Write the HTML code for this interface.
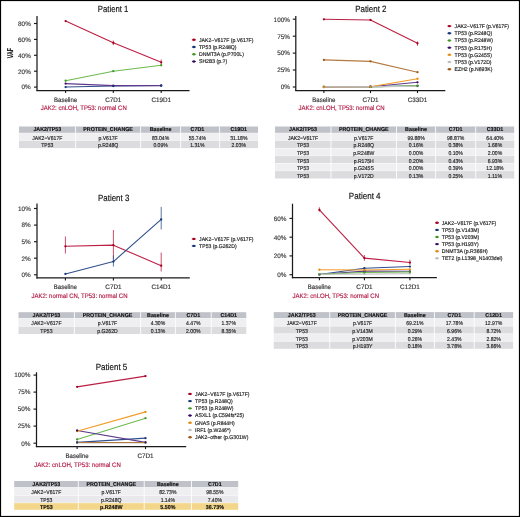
<!DOCTYPE html>
<html><head><meta charset="utf-8"><style>
html,body{margin:0;padding:0;background:#fff;width:520px;height:517px;overflow:hidden}
svg{display:block;will-change:transform}
text{font-family:"Liberation Sans", sans-serif;text-rendering:geometricPrecision;stroke:currentColor;stroke-width:0.16px}
</style></head><body>
<svg width="520" height="517" viewBox="0 0 520 517">
<rect x="0" y="0" width="520" height="517" fill="#fff"/>
<text x="97.80" y="11.65" font-size="9.1" fill="#111" color="#111" text-anchor="start" textLength="30.60" lengthAdjust="spacingAndGlyphs">Patient 1</text>
<line x1="37.00" y1="16.00" x2="37.00" y2="91.10" stroke="#1a1a1a" stroke-width="1.25"/>
<line x1="36.40" y1="90.50" x2="189.50" y2="90.50" stroke="#1a1a1a" stroke-width="1.25"/>
<line x1="34.00" y1="23.50" x2="37.00" y2="23.50" stroke="#1a1a1a" stroke-width="1.15"/>
<text x="30.80" y="25.84" font-size="6.5" fill="#3c3c3c" color="#3c3c3c" text-anchor="end" textLength="12.75" lengthAdjust="spacingAndGlyphs">80%</text>
<line x1="34.00" y1="39.40" x2="37.00" y2="39.40" stroke="#1a1a1a" stroke-width="1.15"/>
<text x="30.80" y="41.74" font-size="6.5" fill="#3c3c3c" color="#3c3c3c" text-anchor="end" textLength="12.75" lengthAdjust="spacingAndGlyphs">60%</text>
<line x1="34.00" y1="55.30" x2="37.00" y2="55.30" stroke="#1a1a1a" stroke-width="1.15"/>
<text x="30.80" y="57.64" font-size="6.5" fill="#3c3c3c" color="#3c3c3c" text-anchor="end" textLength="12.75" lengthAdjust="spacingAndGlyphs">40%</text>
<line x1="34.00" y1="71.20" x2="37.00" y2="71.20" stroke="#1a1a1a" stroke-width="1.15"/>
<text x="30.80" y="73.54" font-size="6.5" fill="#3c3c3c" color="#3c3c3c" text-anchor="end" textLength="12.75" lengthAdjust="spacingAndGlyphs">20%</text>
<line x1="34.00" y1="87.10" x2="37.00" y2="87.10" stroke="#1a1a1a" stroke-width="1.15"/>
<text x="30.80" y="89.44" font-size="6.5" fill="#3c3c3c" color="#3c3c3c" text-anchor="end" textLength="9.21" lengthAdjust="spacingAndGlyphs">0%</text>
<line x1="65.60" y1="90.50" x2="65.60" y2="93.10" stroke="#1a1a1a" stroke-width="1.1"/>
<text x="65.60" y="101.70" font-size="6.5" fill="#333333" color="#333333" text-anchor="middle" textLength="23.19" lengthAdjust="spacingAndGlyphs">Baseline</text>
<line x1="113.30" y1="90.50" x2="113.30" y2="93.10" stroke="#1a1a1a" stroke-width="1.1"/>
<text x="113.30" y="101.70" font-size="6.5" fill="#333333" color="#333333" text-anchor="middle" textLength="16.12" lengthAdjust="spacingAndGlyphs">C7D1</text>
<line x1="161.20" y1="90.50" x2="161.20" y2="93.10" stroke="#1a1a1a" stroke-width="1.1"/>
<text x="161.20" y="101.70" font-size="6.5" fill="#333333" color="#333333" text-anchor="middle" textLength="19.63" lengthAdjust="spacingAndGlyphs">C19D1</text>
<text x="40.70" y="110.00" font-size="6.5" fill="#b31c47" color="#b31c47" text-anchor="start" textLength="86.10" lengthAdjust="spacingAndGlyphs">JAK2: cnLOH, TP53: normal CN</text>
<path d="M65.60,21.08L113.30,42.79L161.20,62.31" fill="none" stroke="#bc1f46" stroke-width="1.1" stroke-linejoin="round"/>
<path d="M65.60,87.03L113.30,86.06L161.20,85.49" fill="none" stroke="#30508c" stroke-width="1.1" stroke-linejoin="round"/>
<path d="M65.60,80.74L113.30,71.20L161.20,65.24" fill="none" stroke="#6cba50" stroke-width="1.1" stroke-linejoin="round"/>
<path d="M65.60,83.60L113.30,85.67L161.20,85.67" fill="none" stroke="#5e3a8c" stroke-width="1.1" stroke-linejoin="round"/>
<line x1="113.30" y1="40.50" x2="113.30" y2="45.20" stroke="#bc1f46" stroke-width="0.8"/>
<line x1="161.20" y1="59.50" x2="161.20" y2="64.00" stroke="#bc1f46" stroke-width="0.8"/>
<circle cx="65.60" cy="21.08" r="1.15" fill="#a8001f"/>
<circle cx="113.30" cy="42.79" r="1.15" fill="#a8001f"/>
<circle cx="161.20" cy="62.31" r="1.15" fill="#a8001f"/>
<circle cx="65.60" cy="83.60" r="1.15" fill="#380c5c"/>
<circle cx="113.30" cy="85.67" r="1.15" fill="#380c5c"/>
<circle cx="161.20" cy="85.67" r="1.15" fill="#380c5c"/>
<circle cx="65.60" cy="80.74" r="1.15" fill="#44962a"/>
<circle cx="113.30" cy="71.20" r="1.15" fill="#44962a"/>
<circle cx="161.20" cy="65.24" r="1.15" fill="#44962a"/>
<circle cx="65.60" cy="87.03" r="1.15" fill="#16367a"/>
<circle cx="113.30" cy="86.06" r="1.15" fill="#16367a"/>
<circle cx="161.20" cy="85.49" r="1.15" fill="#16367a"/>
<line x1="191.90" y1="39.80" x2="195.90" y2="39.80" stroke="#bc1f46" stroke-width="1.0"/>
<ellipse cx="193.90" cy="39.80" rx="1.5" ry="1.2" fill="#a8001f"/>
<text x="199.00" y="41.69" font-size="5.5" fill="#1a1a1a" color="#1a1a1a" text-anchor="start" textLength="54.45" lengthAdjust="spacingAndGlyphs">JAK2−V617F (p.V617F)</text>
<line x1="191.90" y1="47.03" x2="195.90" y2="47.03" stroke="#30508c" stroke-width="1.0"/>
<ellipse cx="193.90" cy="47.03" rx="1.5" ry="1.2" fill="#16367a"/>
<text x="199.00" y="48.92" font-size="5.5" fill="#1a1a1a" color="#1a1a1a" text-anchor="start" textLength="37.53" lengthAdjust="spacingAndGlyphs">TP53 (p.R248Q)</text>
<line x1="191.90" y1="54.26" x2="195.90" y2="54.26" stroke="#6cba50" stroke-width="1.0"/>
<ellipse cx="193.90" cy="54.26" rx="1.5" ry="1.2" fill="#44962a"/>
<text x="199.00" y="56.15" font-size="5.5" fill="#1a1a1a" color="#1a1a1a" text-anchor="start" textLength="44.91" lengthAdjust="spacingAndGlyphs">DNMT3A (p.P700L)</text>
<line x1="191.90" y1="61.49" x2="195.90" y2="61.49" stroke="#5e3a8c" stroke-width="1.0"/>
<ellipse cx="193.90" cy="61.49" rx="1.5" ry="1.2" fill="#380c5c"/>
<text x="199.00" y="63.38" font-size="5.5" fill="#1a1a1a" color="#1a1a1a" text-anchor="start" textLength="28.14" lengthAdjust="spacingAndGlyphs">SH2B3 (p.?)</text>
<text x="0" y="0" font-size="8.6" font-weight="bold" fill="#1a1a1a" text-anchor="middle" textLength="10.1" lengthAdjust="spacingAndGlyphs" transform="translate(13.1,53.1) rotate(-90)">VAF</text>
<text x="355.20" y="11.65" font-size="9.1" fill="#111" color="#111" text-anchor="start" textLength="31.30" lengthAdjust="spacingAndGlyphs">Patient 2</text>
<line x1="295.80" y1="16.10" x2="295.80" y2="91.10" stroke="#1a1a1a" stroke-width="1.25"/>
<line x1="295.20" y1="90.50" x2="445.30" y2="90.50" stroke="#1a1a1a" stroke-width="1.25"/>
<line x1="292.80" y1="19.20" x2="295.80" y2="19.20" stroke="#1a1a1a" stroke-width="1.15"/>
<text x="289.90" y="21.54" font-size="6.5" fill="#3c3c3c" color="#3c3c3c" text-anchor="end" textLength="16.29" lengthAdjust="spacingAndGlyphs">100%</text>
<line x1="292.80" y1="36.20" x2="295.80" y2="36.20" stroke="#1a1a1a" stroke-width="1.15"/>
<text x="289.90" y="38.54" font-size="6.5" fill="#3c3c3c" color="#3c3c3c" text-anchor="end" textLength="12.75" lengthAdjust="spacingAndGlyphs">75%</text>
<line x1="292.80" y1="53.10" x2="295.80" y2="53.10" stroke="#1a1a1a" stroke-width="1.15"/>
<text x="289.90" y="55.44" font-size="6.5" fill="#3c3c3c" color="#3c3c3c" text-anchor="end" textLength="12.75" lengthAdjust="spacingAndGlyphs">50%</text>
<line x1="292.80" y1="70.00" x2="295.80" y2="70.00" stroke="#1a1a1a" stroke-width="1.15"/>
<text x="289.90" y="72.34" font-size="6.5" fill="#3c3c3c" color="#3c3c3c" text-anchor="end" textLength="12.75" lengthAdjust="spacingAndGlyphs">25%</text>
<line x1="292.80" y1="87.00" x2="295.80" y2="87.00" stroke="#1a1a1a" stroke-width="1.15"/>
<text x="289.90" y="89.34" font-size="6.5" fill="#3c3c3c" color="#3c3c3c" text-anchor="end" textLength="9.21" lengthAdjust="spacingAndGlyphs">0%</text>
<line x1="323.90" y1="90.50" x2="323.90" y2="93.10" stroke="#1a1a1a" stroke-width="1.1"/>
<text x="323.90" y="101.80" font-size="6.5" fill="#333333" color="#333333" text-anchor="middle" textLength="23.19" lengthAdjust="spacingAndGlyphs">Baseline</text>
<line x1="370.50" y1="90.50" x2="370.50" y2="93.10" stroke="#1a1a1a" stroke-width="1.1"/>
<text x="370.50" y="101.80" font-size="6.5" fill="#333333" color="#333333" text-anchor="middle" textLength="16.12" lengthAdjust="spacingAndGlyphs">C7D1</text>
<line x1="417.50" y1="90.50" x2="417.50" y2="93.10" stroke="#1a1a1a" stroke-width="1.1"/>
<text x="417.50" y="101.80" font-size="6.5" fill="#333333" color="#333333" text-anchor="middle" textLength="19.63" lengthAdjust="spacingAndGlyphs">C33D1</text>
<text x="298.60" y="110.00" font-size="6.5" fill="#b31c47" color="#b31c47" text-anchor="start" textLength="86.10" lengthAdjust="spacingAndGlyphs">JAK2: cnLOH, TP53: normal CN</text>
<path d="M323.90,19.28L370.50,19.97L417.50,43.34" fill="none" stroke="#bc1f46" stroke-width="1.1" stroke-linejoin="round"/>
<path d="M323.90,86.89L370.50,86.74L417.50,85.86" fill="none" stroke="#30508c" stroke-width="1.1" stroke-linejoin="round"/>
<path d="M323.90,87.00L370.50,86.93L417.50,85.64" fill="none" stroke="#6cba50" stroke-width="1.1" stroke-linejoin="round"/>
<path d="M323.90,86.86L370.50,86.71L417.50,82.30" fill="none" stroke="#5e3a8c" stroke-width="1.1" stroke-linejoin="round"/>
<path d="M323.90,87.00L370.50,86.74L417.50,78.74" fill="none" stroke="#f19a26" stroke-width="1.1" stroke-linejoin="round"/>
<path d="M323.90,86.91L370.50,86.83L417.50,86.25" fill="none" stroke="#c8c8cc" stroke-width="1.1" stroke-linejoin="round"/>
<path d="M323.90,59.88L370.50,61.37L417.50,72.22" fill="none" stroke="#b57a40" stroke-width="1.1" stroke-linejoin="round"/>
<line x1="417.50" y1="41.40" x2="417.50" y2="45.80" stroke="#bc1f46" stroke-width="0.8"/>
<circle cx="323.90" cy="19.28" r="1.15" fill="#a8001f"/>
<circle cx="370.50" cy="19.97" r="1.15" fill="#a8001f"/>
<circle cx="417.50" cy="43.34" r="1.15" fill="#a8001f"/>
<circle cx="323.90" cy="86.91" r="1.15" fill="#bcbcc2"/>
<circle cx="370.50" cy="86.83" r="1.15" fill="#bcbcc2"/>
<circle cx="417.50" cy="86.25" r="1.15" fill="#bcbcc2"/>
<circle cx="323.90" cy="86.89" r="1.15" fill="#16367a"/>
<circle cx="370.50" cy="86.74" r="1.15" fill="#16367a"/>
<circle cx="417.50" cy="85.86" r="1.15" fill="#16367a"/>
<circle cx="323.90" cy="86.86" r="1.15" fill="#380c5c"/>
<circle cx="370.50" cy="86.71" r="1.15" fill="#380c5c"/>
<circle cx="417.50" cy="82.30" r="1.15" fill="#380c5c"/>
<circle cx="323.90" cy="87.00" r="1.15" fill="#44962a"/>
<circle cx="370.50" cy="86.93" r="1.15" fill="#44962a"/>
<circle cx="417.50" cy="85.64" r="1.15" fill="#44962a"/>
<circle cx="323.90" cy="87.00" r="1.15" fill="#e58c12"/>
<circle cx="370.50" cy="86.74" r="1.15" fill="#e58c12"/>
<circle cx="417.50" cy="78.74" r="1.15" fill="#e58c12"/>
<circle cx="323.90" cy="59.88" r="1.15" fill="#a05a14"/>
<circle cx="370.50" cy="61.37" r="1.15" fill="#a05a14"/>
<circle cx="417.50" cy="72.22" r="1.15" fill="#a05a14"/>
<line x1="447.40" y1="26.10" x2="451.40" y2="26.10" stroke="#bc1f46" stroke-width="1.0"/>
<ellipse cx="449.40" cy="26.10" rx="1.5" ry="1.2" fill="#a8001f"/>
<text x="454.60" y="27.99" font-size="5.5" fill="#1a1a1a" color="#1a1a1a" text-anchor="start" textLength="54.45" lengthAdjust="spacingAndGlyphs">JAK2−V617F (p.V617F)</text>
<line x1="447.40" y1="33.28" x2="451.40" y2="33.28" stroke="#30508c" stroke-width="1.0"/>
<ellipse cx="449.40" cy="33.28" rx="1.5" ry="1.2" fill="#16367a"/>
<text x="454.60" y="35.17" font-size="5.5" fill="#1a1a1a" color="#1a1a1a" text-anchor="start" textLength="37.53" lengthAdjust="spacingAndGlyphs">TP53 (p.R248Q)</text>
<line x1="447.40" y1="40.46" x2="451.40" y2="40.46" stroke="#6cba50" stroke-width="1.0"/>
<ellipse cx="449.40" cy="40.46" rx="1.5" ry="1.2" fill="#44962a"/>
<text x="454.60" y="42.35" font-size="5.5" fill="#1a1a1a" color="#1a1a1a" text-anchor="start" textLength="38.37" lengthAdjust="spacingAndGlyphs">TP53 (p.R248W)</text>
<line x1="447.40" y1="47.64" x2="451.40" y2="47.64" stroke="#5e3a8c" stroke-width="1.0"/>
<ellipse cx="449.40" cy="47.64" rx="1.5" ry="1.2" fill="#380c5c"/>
<text x="454.60" y="49.53" font-size="5.5" fill="#1a1a1a" color="#1a1a1a" text-anchor="start" textLength="37.24" lengthAdjust="spacingAndGlyphs">TP53 (p.R175H)</text>
<line x1="447.40" y1="54.82" x2="451.40" y2="54.82" stroke="#f19a26" stroke-width="1.0"/>
<ellipse cx="449.40" cy="54.82" rx="1.5" ry="1.2" fill="#e58c12"/>
<text x="454.60" y="56.71" font-size="5.5" fill="#1a1a1a" color="#1a1a1a" text-anchor="start" textLength="37.24" lengthAdjust="spacingAndGlyphs">TP53 (p.G245S)</text>
<line x1="447.40" y1="62.00" x2="451.40" y2="62.00" stroke="#c8c8cc" stroke-width="1.0"/>
<ellipse cx="449.40" cy="62.00" rx="1.5" ry="1.2" fill="#bcbcc2"/>
<text x="454.60" y="63.89" font-size="5.5" fill="#1a1a1a" color="#1a1a1a" text-anchor="start" textLength="36.96" lengthAdjust="spacingAndGlyphs">TP53 (p.V172D)</text>
<line x1="447.40" y1="69.18" x2="451.40" y2="69.18" stroke="#b57a40" stroke-width="1.0"/>
<ellipse cx="449.40" cy="69.18" rx="1.5" ry="1.2" fill="#a05a14"/>
<text x="454.60" y="71.07" font-size="5.5" fill="#1a1a1a" color="#1a1a1a" text-anchor="start" textLength="37.81" lengthAdjust="spacingAndGlyphs">EZH2 (p.N693K)</text>
<text x="98.10" y="200.85" font-size="9.1" fill="#111" color="#111" text-anchor="start" textLength="31.20" lengthAdjust="spacingAndGlyphs">Patient 3</text>
<line x1="37.00" y1="203.60" x2="37.00" y2="278.50" stroke="#1a1a1a" stroke-width="1.25"/>
<line x1="36.40" y1="277.90" x2="189.80" y2="277.90" stroke="#1a1a1a" stroke-width="1.25"/>
<line x1="34.00" y1="208.50" x2="37.00" y2="208.50" stroke="#1a1a1a" stroke-width="1.15"/>
<text x="30.80" y="210.84" font-size="6.5" fill="#3c3c3c" color="#3c3c3c" text-anchor="end" textLength="12.75" lengthAdjust="spacingAndGlyphs">10%</text>
<line x1="34.00" y1="225.10" x2="37.00" y2="225.10" stroke="#1a1a1a" stroke-width="1.15"/>
<text x="30.80" y="227.44" font-size="6.5" fill="#3c3c3c" color="#3c3c3c" text-anchor="end" textLength="9.21" lengthAdjust="spacingAndGlyphs">8%</text>
<line x1="34.00" y1="241.70" x2="37.00" y2="241.70" stroke="#1a1a1a" stroke-width="1.15"/>
<text x="30.80" y="244.04" font-size="6.5" fill="#3c3c3c" color="#3c3c3c" text-anchor="end" textLength="9.21" lengthAdjust="spacingAndGlyphs">5%</text>
<line x1="34.00" y1="258.20" x2="37.00" y2="258.20" stroke="#1a1a1a" stroke-width="1.15"/>
<text x="30.80" y="260.54" font-size="6.5" fill="#3c3c3c" color="#3c3c3c" text-anchor="end" textLength="9.21" lengthAdjust="spacingAndGlyphs">2%</text>
<line x1="34.00" y1="274.80" x2="37.00" y2="274.80" stroke="#1a1a1a" stroke-width="1.15"/>
<text x="30.80" y="277.14" font-size="6.5" fill="#3c3c3c" color="#3c3c3c" text-anchor="end" textLength="9.21" lengthAdjust="spacingAndGlyphs">0%</text>
<line x1="65.40" y1="277.90" x2="65.40" y2="280.50" stroke="#1a1a1a" stroke-width="1.1"/>
<text x="65.40" y="289.00" font-size="6.5" fill="#333333" color="#333333" text-anchor="middle" textLength="23.19" lengthAdjust="spacingAndGlyphs">Baseline</text>
<line x1="113.40" y1="277.90" x2="113.40" y2="280.50" stroke="#1a1a1a" stroke-width="1.1"/>
<text x="113.40" y="289.00" font-size="6.5" fill="#333333" color="#333333" text-anchor="middle" textLength="16.12" lengthAdjust="spacingAndGlyphs">C7D1</text>
<line x1="161.20" y1="277.90" x2="161.20" y2="280.50" stroke="#1a1a1a" stroke-width="1.1"/>
<text x="161.20" y="289.00" font-size="6.5" fill="#333333" color="#333333" text-anchor="middle" textLength="19.63" lengthAdjust="spacingAndGlyphs">C14D1</text>
<text x="31.40" y="297.90" font-size="6.5" fill="#b31c47" color="#b31c47" text-anchor="start" textLength="96.10" lengthAdjust="spacingAndGlyphs">JAK2: normal CN, TP53: normal CN</text>
<path d="M65.40,246.29L113.40,245.16L161.20,265.72" fill="none" stroke="#bc1f46" stroke-width="1.1" stroke-linejoin="round"/>
<path d="M65.40,273.94L113.40,261.54L161.20,219.44" fill="none" stroke="#30508c" stroke-width="1.1" stroke-linejoin="round"/>
<line x1="65.40" y1="236.50" x2="65.40" y2="253.50" stroke="#bc1f46" stroke-width="0.8"/>
<line x1="113.40" y1="230.00" x2="113.40" y2="259.50" stroke="#bc1f46" stroke-width="0.8"/>
<line x1="161.20" y1="252.60" x2="161.20" y2="271.50" stroke="#bc1f46" stroke-width="0.8"/>
<line x1="113.40" y1="255.40" x2="113.40" y2="266.50" stroke="#30508c" stroke-width="0.8"/>
<line x1="161.20" y1="206.90" x2="161.20" y2="229.50" stroke="#30508c" stroke-width="0.8"/>
<circle cx="65.40" cy="246.29" r="1.15" fill="#a8001f"/>
<circle cx="113.40" cy="245.16" r="1.15" fill="#a8001f"/>
<circle cx="161.20" cy="265.72" r="1.15" fill="#a8001f"/>
<circle cx="65.40" cy="273.94" r="1.15" fill="#16367a"/>
<circle cx="113.40" cy="261.54" r="1.15" fill="#16367a"/>
<circle cx="161.20" cy="219.44" r="1.15" fill="#16367a"/>
<line x1="191.80" y1="238.90" x2="195.80" y2="238.90" stroke="#bc1f46" stroke-width="1.0"/>
<ellipse cx="193.80" cy="238.90" rx="1.5" ry="1.2" fill="#a8001f"/>
<text x="199.10" y="240.79" font-size="5.5" fill="#1a1a1a" color="#1a1a1a" text-anchor="start" textLength="54.45" lengthAdjust="spacingAndGlyphs">JAK2−V617F (p.V617F)</text>
<line x1="191.80" y1="245.90" x2="195.80" y2="245.90" stroke="#30508c" stroke-width="1.0"/>
<ellipse cx="193.80" cy="245.90" rx="1.5" ry="1.2" fill="#16367a"/>
<text x="199.10" y="247.79" font-size="5.5" fill="#1a1a1a" color="#1a1a1a" text-anchor="start" textLength="37.53" lengthAdjust="spacingAndGlyphs">TP53 (p.G262D)</text>
<text x="348.80" y="199.05" font-size="9.1" fill="#111" color="#111" text-anchor="start" textLength="31.80" lengthAdjust="spacingAndGlyphs">Patient 4</text>
<line x1="292.50" y1="203.70" x2="292.50" y2="278.30" stroke="#1a1a1a" stroke-width="1.25"/>
<line x1="291.90" y1="277.70" x2="436.90" y2="277.70" stroke="#1a1a1a" stroke-width="1.25"/>
<line x1="289.50" y1="218.40" x2="292.50" y2="218.40" stroke="#1a1a1a" stroke-width="1.15"/>
<text x="286.40" y="220.74" font-size="6.5" fill="#3c3c3c" color="#3c3c3c" text-anchor="end" textLength="12.75" lengthAdjust="spacingAndGlyphs">60%</text>
<line x1="289.50" y1="237.20" x2="292.50" y2="237.20" stroke="#1a1a1a" stroke-width="1.15"/>
<text x="286.40" y="239.54" font-size="6.5" fill="#3c3c3c" color="#3c3c3c" text-anchor="end" textLength="12.75" lengthAdjust="spacingAndGlyphs">40%</text>
<line x1="289.50" y1="255.90" x2="292.50" y2="255.90" stroke="#1a1a1a" stroke-width="1.15"/>
<text x="286.40" y="258.24" font-size="6.5" fill="#3c3c3c" color="#3c3c3c" text-anchor="end" textLength="12.75" lengthAdjust="spacingAndGlyphs">20%</text>
<line x1="289.50" y1="274.70" x2="292.50" y2="274.70" stroke="#1a1a1a" stroke-width="1.15"/>
<text x="286.40" y="277.04" font-size="6.5" fill="#3c3c3c" color="#3c3c3c" text-anchor="end" textLength="9.21" lengthAdjust="spacingAndGlyphs">0%</text>
<line x1="319.40" y1="277.70" x2="319.40" y2="280.30" stroke="#1a1a1a" stroke-width="1.1"/>
<text x="319.40" y="289.10" font-size="6.5" fill="#333333" color="#333333" text-anchor="middle" textLength="23.19" lengthAdjust="spacingAndGlyphs">Baseline</text>
<line x1="364.40" y1="277.70" x2="364.40" y2="280.30" stroke="#1a1a1a" stroke-width="1.1"/>
<text x="364.40" y="289.10" font-size="6.5" fill="#333333" color="#333333" text-anchor="middle" textLength="16.12" lengthAdjust="spacingAndGlyphs">C7D1</text>
<line x1="409.90" y1="277.70" x2="409.90" y2="280.30" stroke="#1a1a1a" stroke-width="1.1"/>
<text x="409.90" y="289.10" font-size="6.5" fill="#333333" color="#333333" text-anchor="middle" textLength="19.63" lengthAdjust="spacingAndGlyphs">C12D1</text>
<text x="292.50" y="297.90" font-size="6.5" fill="#b31c47" color="#b31c47" text-anchor="start" textLength="86.50" lengthAdjust="spacingAndGlyphs">JAK2: cnLOH, TP53: normal CN</text>
<path d="M319.40,209.99L364.40,258.08L409.90,262.57" fill="none" stroke="#bc1f46" stroke-width="1.1" stroke-linejoin="round"/>
<path d="M319.40,274.43L364.40,268.19L409.90,266.55" fill="none" stroke="#30508c" stroke-width="1.1" stroke-linejoin="round"/>
<path d="M319.40,274.53L364.40,271.17L409.90,271.28" fill="none" stroke="#5e3a8c" stroke-width="1.1" stroke-linejoin="round"/>
<path d="M319.40,274.42L364.40,272.43L409.90,272.06" fill="none" stroke="#6cba50" stroke-width="1.1" stroke-linejoin="round"/>
<path d="M319.40,269.74L364.40,269.93L409.90,269.28" fill="none" stroke="#f19a26" stroke-width="1.1" stroke-linejoin="round"/>
<path d="M319.40,274.23L364.40,274.09L409.90,273.58" fill="none" stroke="#c8c8cc" stroke-width="1.1" stroke-linejoin="round"/>
<line x1="319.40" y1="207.30" x2="319.40" y2="211.50" stroke="#bc1f46" stroke-width="0.8"/>
<line x1="364.40" y1="255.00" x2="364.40" y2="260.80" stroke="#bc1f46" stroke-width="0.8"/>
<line x1="409.90" y1="259.80" x2="409.90" y2="265.00" stroke="#bc1f46" stroke-width="0.8"/>
<circle cx="319.40" cy="209.99" r="1.15" fill="#a8001f"/>
<circle cx="364.40" cy="258.08" r="1.15" fill="#a8001f"/>
<circle cx="409.90" cy="262.57" r="1.15" fill="#a8001f"/>
<circle cx="319.40" cy="274.43" r="1.15" fill="#16367a"/>
<circle cx="364.40" cy="268.19" r="1.15" fill="#16367a"/>
<circle cx="409.90" cy="266.55" r="1.15" fill="#16367a"/>
<circle cx="319.40" cy="274.53" r="1.15" fill="#380c5c"/>
<circle cx="364.40" cy="271.17" r="1.15" fill="#380c5c"/>
<circle cx="409.90" cy="271.28" r="1.15" fill="#380c5c"/>
<circle cx="319.40" cy="269.74" r="1.15" fill="#e58c12"/>
<circle cx="364.40" cy="269.93" r="1.15" fill="#e58c12"/>
<circle cx="409.90" cy="269.28" r="1.15" fill="#e58c12"/>
<circle cx="319.40" cy="274.23" r="1.15" fill="#bcbcc2"/>
<circle cx="364.40" cy="274.09" r="1.15" fill="#bcbcc2"/>
<circle cx="409.90" cy="273.58" r="1.15" fill="#bcbcc2"/>
<circle cx="319.40" cy="274.42" r="1.15" fill="#44962a"/>
<circle cx="364.40" cy="272.43" r="1.15" fill="#44962a"/>
<circle cx="409.90" cy="272.06" r="1.15" fill="#44962a"/>
<line x1="435.00" y1="222.80" x2="439.00" y2="222.80" stroke="#bc1f46" stroke-width="1.0"/>
<ellipse cx="437.00" cy="222.80" rx="1.5" ry="1.2" fill="#a8001f"/>
<text x="441.80" y="224.69" font-size="5.5" fill="#1a1a1a" color="#1a1a1a" text-anchor="start" textLength="54.45" lengthAdjust="spacingAndGlyphs">JAK2−V617F (p.V617F)</text>
<line x1="435.00" y1="229.90" x2="439.00" y2="229.90" stroke="#30508c" stroke-width="1.0"/>
<ellipse cx="437.00" cy="229.90" rx="1.5" ry="1.2" fill="#16367a"/>
<text x="441.80" y="231.79" font-size="5.5" fill="#1a1a1a" color="#1a1a1a" text-anchor="start" textLength="37.53" lengthAdjust="spacingAndGlyphs">TP53 (p.V143M)</text>
<line x1="435.00" y1="237.00" x2="439.00" y2="237.00" stroke="#6cba50" stroke-width="1.0"/>
<ellipse cx="437.00" cy="237.00" rx="1.5" ry="1.2" fill="#44962a"/>
<text x="441.80" y="238.89" font-size="5.5" fill="#1a1a1a" color="#1a1a1a" text-anchor="start" textLength="37.53" lengthAdjust="spacingAndGlyphs">TP53 (p.V203M)</text>
<line x1="435.00" y1="244.10" x2="439.00" y2="244.10" stroke="#5e3a8c" stroke-width="1.0"/>
<ellipse cx="437.00" cy="244.10" rx="1.5" ry="1.2" fill="#380c5c"/>
<text x="441.80" y="245.99" font-size="5.5" fill="#1a1a1a" color="#1a1a1a" text-anchor="start" textLength="36.96" lengthAdjust="spacingAndGlyphs">TP53 (p.H193Y)</text>
<line x1="435.00" y1="251.20" x2="439.00" y2="251.20" stroke="#f19a26" stroke-width="1.0"/>
<ellipse cx="437.00" cy="251.20" rx="1.5" ry="1.2" fill="#e58c12"/>
<text x="441.80" y="253.09" font-size="5.5" fill="#1a1a1a" color="#1a1a1a" text-anchor="start" textLength="46.04" lengthAdjust="spacingAndGlyphs">DNMT3A (p.R366H)</text>
<line x1="435.00" y1="258.30" x2="439.00" y2="258.30" stroke="#c8c8cc" stroke-width="1.0"/>
<ellipse cx="437.00" cy="258.30" rx="1.5" ry="1.2" fill="#bcbcc2"/>
<text x="441.80" y="260.19" font-size="5.5" fill="#1a1a1a" color="#1a1a1a" text-anchor="start" textLength="60.57" lengthAdjust="spacingAndGlyphs">TET2 (p.L1398_N1403del)</text>
<text x="95.70" y="369.65" font-size="9.1" fill="#111" color="#111" text-anchor="start" textLength="31.60" lengthAdjust="spacingAndGlyphs">Patient 5</text>
<line x1="36.50" y1="372.30" x2="36.50" y2="447.10" stroke="#1a1a1a" stroke-width="1.25"/>
<line x1="35.90" y1="446.50" x2="186.20" y2="446.50" stroke="#1a1a1a" stroke-width="1.25"/>
<line x1="33.50" y1="375.10" x2="36.50" y2="375.10" stroke="#1a1a1a" stroke-width="1.15"/>
<text x="30.50" y="377.44" font-size="6.5" fill="#3c3c3c" color="#3c3c3c" text-anchor="end" textLength="16.29" lengthAdjust="spacingAndGlyphs">100%</text>
<line x1="33.50" y1="392.10" x2="36.50" y2="392.10" stroke="#1a1a1a" stroke-width="1.15"/>
<text x="30.50" y="394.44" font-size="6.5" fill="#3c3c3c" color="#3c3c3c" text-anchor="end" textLength="12.75" lengthAdjust="spacingAndGlyphs">75%</text>
<line x1="33.50" y1="409.10" x2="36.50" y2="409.10" stroke="#1a1a1a" stroke-width="1.15"/>
<text x="30.50" y="411.44" font-size="6.5" fill="#3c3c3c" color="#3c3c3c" text-anchor="end" textLength="12.75" lengthAdjust="spacingAndGlyphs">50%</text>
<line x1="33.50" y1="426.10" x2="36.50" y2="426.10" stroke="#1a1a1a" stroke-width="1.15"/>
<text x="30.50" y="428.44" font-size="6.5" fill="#3c3c3c" color="#3c3c3c" text-anchor="end" textLength="12.75" lengthAdjust="spacingAndGlyphs">25%</text>
<line x1="33.50" y1="443.20" x2="36.50" y2="443.20" stroke="#1a1a1a" stroke-width="1.15"/>
<text x="30.50" y="445.54" font-size="6.5" fill="#3c3c3c" color="#3c3c3c" text-anchor="end" textLength="9.21" lengthAdjust="spacingAndGlyphs">0%</text>
<line x1="77.10" y1="446.50" x2="77.10" y2="449.10" stroke="#1a1a1a" stroke-width="1.1"/>
<text x="77.10" y="458.40" font-size="6.5" fill="#333333" color="#333333" text-anchor="middle" textLength="23.19" lengthAdjust="spacingAndGlyphs">Baseline</text>
<line x1="145.50" y1="446.50" x2="145.50" y2="449.10" stroke="#1a1a1a" stroke-width="1.1"/>
<text x="145.50" y="458.40" font-size="6.5" fill="#333333" color="#333333" text-anchor="middle" textLength="16.12" lengthAdjust="spacingAndGlyphs">C7D1</text>
<text x="34.20" y="466.60" font-size="6.5" fill="#b31c47" color="#b31c47" text-anchor="start" textLength="86.60" lengthAdjust="spacingAndGlyphs">JAK2: cnLOH, TP53: normal CN</text>
<path d="M77.10,386.86L145.50,376.09" fill="none" stroke="#bc1f46" stroke-width="1.1" stroke-linejoin="round"/>
<path d="M77.10,442.42L145.50,438.16" fill="none" stroke="#30508c" stroke-width="1.1" stroke-linejoin="round"/>
<path d="M77.10,439.45L145.50,418.19" fill="none" stroke="#6cba50" stroke-width="1.1" stroke-linejoin="round"/>
<path d="M77.10,430.47L145.50,442.38" fill="none" stroke="#5e3a8c" stroke-width="1.1" stroke-linejoin="round"/>
<path d="M77.10,431.21L145.50,411.87" fill="none" stroke="#f19a26" stroke-width="1.1" stroke-linejoin="round"/>
<path d="M77.10,442.86L145.50,442.86" fill="none" stroke="#c8c8cc" stroke-width="1.1" stroke-linejoin="round"/>
<path d="M77.10,442.52L145.50,442.52" fill="none" stroke="#b57a40" stroke-width="1.1" stroke-linejoin="round"/>
<circle cx="77.10" cy="386.86" r="1.15" fill="#a8001f"/>
<circle cx="145.50" cy="376.09" r="1.15" fill="#a8001f"/>
<circle cx="77.10" cy="442.52" r="1.15" fill="#a05a14"/>
<circle cx="145.50" cy="442.52" r="1.15" fill="#a05a14"/>
<circle cx="77.10" cy="442.86" r="1.15" fill="#bcbcc2"/>
<circle cx="145.50" cy="442.86" r="1.15" fill="#bcbcc2"/>
<circle cx="77.10" cy="431.21" r="1.15" fill="#e58c12"/>
<circle cx="145.50" cy="411.87" r="1.15" fill="#e58c12"/>
<circle cx="77.10" cy="430.47" r="1.15" fill="#380c5c"/>
<circle cx="145.50" cy="442.38" r="1.15" fill="#380c5c"/>
<circle cx="77.10" cy="439.45" r="1.15" fill="#44962a"/>
<circle cx="145.50" cy="418.19" r="1.15" fill="#44962a"/>
<circle cx="77.10" cy="442.42" r="1.15" fill="#16367a"/>
<circle cx="145.50" cy="438.16" r="1.15" fill="#16367a"/>
<line x1="188.00" y1="393.90" x2="192.00" y2="393.90" stroke="#bc1f46" stroke-width="1.0"/>
<ellipse cx="190.00" cy="393.90" rx="1.5" ry="1.2" fill="#a8001f"/>
<text x="195.10" y="395.79" font-size="5.5" fill="#1a1a1a" color="#1a1a1a" text-anchor="start" textLength="54.45" lengthAdjust="spacingAndGlyphs">JAK2−V617F (p.V617F)</text>
<line x1="188.00" y1="401.12" x2="192.00" y2="401.12" stroke="#30508c" stroke-width="1.0"/>
<ellipse cx="190.00" cy="401.12" rx="1.5" ry="1.2" fill="#16367a"/>
<text x="195.10" y="403.01" font-size="5.5" fill="#1a1a1a" color="#1a1a1a" text-anchor="start" textLength="37.53" lengthAdjust="spacingAndGlyphs">TP53 (p.R248Q)</text>
<line x1="188.00" y1="408.34" x2="192.00" y2="408.34" stroke="#6cba50" stroke-width="1.0"/>
<ellipse cx="190.00" cy="408.34" rx="1.5" ry="1.2" fill="#44962a"/>
<text x="195.10" y="410.23" font-size="5.5" fill="#1a1a1a" color="#1a1a1a" text-anchor="start" textLength="38.37" lengthAdjust="spacingAndGlyphs">TP53 (p.R248W)</text>
<line x1="188.00" y1="415.56" x2="192.00" y2="415.56" stroke="#5e3a8c" stroke-width="1.0"/>
<ellipse cx="190.00" cy="415.56" rx="1.5" ry="1.2" fill="#380c5c"/>
<text x="195.10" y="417.45" font-size="5.5" fill="#1a1a1a" color="#1a1a1a" text-anchor="start" textLength="48.90" lengthAdjust="spacingAndGlyphs">ASXL1 (p.C594fs*25)</text>
<line x1="188.00" y1="422.78" x2="192.00" y2="422.78" stroke="#f19a26" stroke-width="1.0"/>
<ellipse cx="190.00" cy="422.78" rx="1.5" ry="1.2" fill="#e58c12"/>
<text x="195.10" y="424.67" font-size="5.5" fill="#1a1a1a" color="#1a1a1a" text-anchor="start" textLength="39.51" lengthAdjust="spacingAndGlyphs">GNAS (p.R844H)</text>
<line x1="188.00" y1="430.00" x2="192.00" y2="430.00" stroke="#c8c8cc" stroke-width="1.0"/>
<ellipse cx="190.00" cy="430.00" rx="1.5" ry="1.2" fill="#bcbcc2"/>
<text x="195.10" y="431.89" font-size="5.5" fill="#1a1a1a" color="#1a1a1a" text-anchor="start" textLength="35.53" lengthAdjust="spacingAndGlyphs">IRF1 (p.W246*)</text>
<line x1="188.00" y1="437.22" x2="192.00" y2="437.22" stroke="#b57a40" stroke-width="1.0"/>
<ellipse cx="190.00" cy="437.22" rx="1.5" ry="1.2" fill="#a05a14"/>
<text x="195.10" y="439.11" font-size="5.5" fill="#1a1a1a" color="#1a1a1a" text-anchor="start" textLength="53.31" lengthAdjust="spacingAndGlyphs">JAK2−other (p.G301W)</text>
<rect x="19.00" y="126.50" width="239.00" height="6.50" fill="#c0c2c9"/>
<rect x="19.00" y="133.00" width="239.00" height="7.60" fill="#efeff1"/>
<rect x="19.00" y="140.60" width="239.00" height="7.50" fill="#dcdcdf"/>
<rect x="75.10" y="126.50" width="1" height="21.60" fill="#ffffff" fill-opacity="0.85"/>
<rect x="140.10" y="126.50" width="1" height="21.60" fill="#ffffff" fill-opacity="0.85"/>
<rect x="180.10" y="126.50" width="1" height="21.60" fill="#ffffff" fill-opacity="0.85"/>
<rect x="219.10" y="126.50" width="1" height="21.60" fill="#ffffff" fill-opacity="0.85"/>
<rect x="19.00" y="132.70" width="239.00" height="0.6" fill="#ffffff" fill-opacity="0.6"/>
<rect x="19.00" y="140.30" width="239.00" height="0.6" fill="#ffffff" fill-opacity="0.6"/>
<text x="47.30" y="131.48" font-size="5.6" fill="#111" color="#111" text-anchor="middle" font-weight="bold" textLength="27.79" lengthAdjust="spacingAndGlyphs">JAK2/TP53</text>
<text x="108.10" y="131.48" font-size="5.6" fill="#111" color="#111" text-anchor="middle" font-weight="bold" textLength="49.66" lengthAdjust="spacingAndGlyphs">PROTEIN_CHANGE</text>
<text x="160.60" y="131.48" font-size="5.6" fill="#111" color="#111" text-anchor="middle" font-weight="bold" textLength="21.88" lengthAdjust="spacingAndGlyphs">Baseline</text>
<text x="197.40" y="131.48" font-size="5.6" fill="#111" color="#111" text-anchor="middle" font-weight="bold" textLength="13.60" lengthAdjust="spacingAndGlyphs">C7D1</text>
<text x="238.80" y="131.48" font-size="5.6" fill="#111" color="#111" text-anchor="middle" font-weight="bold" textLength="16.56" lengthAdjust="spacingAndGlyphs">C19D1</text>
<text x="47.30" y="139.83" font-size="5.6" fill="#262626" color="#262626" text-anchor="middle" textLength="30.17" lengthAdjust="spacingAndGlyphs">JAK2−V617F</text>
<text x="108.10" y="139.83" font-size="5.6" fill="#262626" color="#262626" text-anchor="middle" textLength="19.26" lengthAdjust="spacingAndGlyphs">p.V617F</text>
<text x="160.60" y="139.83" font-size="5.6" fill="#262626" color="#262626" text-anchor="middle" textLength="17.28" lengthAdjust="spacingAndGlyphs">83.04%</text>
<text x="197.40" y="139.83" font-size="5.6" fill="#262626" color="#262626" text-anchor="middle" textLength="17.28" lengthAdjust="spacingAndGlyphs">55.74%</text>
<text x="238.80" y="139.83" font-size="5.6" fill="#262626" color="#262626" text-anchor="middle" textLength="17.28" lengthAdjust="spacingAndGlyphs">31.18%</text>
<text x="47.30" y="147.38" font-size="5.6" fill="#262626" color="#262626" text-anchor="middle" textLength="12.18" lengthAdjust="spacingAndGlyphs">TP53</text>
<text x="108.10" y="147.38" font-size="5.6" fill="#262626" color="#262626" text-anchor="middle" textLength="20.40" lengthAdjust="spacingAndGlyphs">p.R248Q</text>
<text x="160.60" y="147.38" font-size="5.6" fill="#262626" color="#262626" text-anchor="middle" textLength="14.45" lengthAdjust="spacingAndGlyphs">0.09%</text>
<text x="197.40" y="147.38" font-size="5.6" fill="#262626" color="#262626" text-anchor="middle" textLength="14.45" lengthAdjust="spacingAndGlyphs">1.31%</text>
<text x="238.80" y="147.38" font-size="5.6" fill="#262626" color="#262626" text-anchor="middle" textLength="14.45" lengthAdjust="spacingAndGlyphs">2.03%</text>
<rect x="275.00" y="126.50" width="239.20" height="6.50" fill="#c0c2c9"/>
<rect x="275.00" y="133.00" width="239.20" height="7.60" fill="#efeff1"/>
<rect x="275.00" y="140.60" width="239.20" height="7.60" fill="#dcdcdf"/>
<rect x="275.00" y="148.20" width="239.20" height="7.60" fill="#efeff1"/>
<rect x="275.00" y="155.80" width="239.20" height="7.50" fill="#dcdcdf"/>
<rect x="275.00" y="163.30" width="239.20" height="7.60" fill="#efeff1"/>
<rect x="275.00" y="170.90" width="239.20" height="7.60" fill="#dcdcdf"/>
<rect x="330.50" y="126.50" width="1" height="52.00" fill="#ffffff" fill-opacity="0.85"/>
<rect x="396.00" y="126.50" width="1" height="52.00" fill="#ffffff" fill-opacity="0.85"/>
<rect x="435.10" y="126.50" width="1" height="52.00" fill="#ffffff" fill-opacity="0.85"/>
<rect x="475.20" y="126.50" width="1" height="52.00" fill="#ffffff" fill-opacity="0.85"/>
<rect x="275.00" y="132.70" width="239.20" height="0.6" fill="#ffffff" fill-opacity="0.6"/>
<rect x="275.00" y="140.30" width="239.20" height="0.6" fill="#ffffff" fill-opacity="0.6"/>
<rect x="275.00" y="147.90" width="239.20" height="0.6" fill="#ffffff" fill-opacity="0.6"/>
<rect x="275.00" y="155.50" width="239.20" height="0.6" fill="#ffffff" fill-opacity="0.6"/>
<rect x="275.00" y="163.00" width="239.20" height="0.6" fill="#ffffff" fill-opacity="0.6"/>
<rect x="275.00" y="170.60" width="239.20" height="0.6" fill="#ffffff" fill-opacity="0.6"/>
<text x="303.00" y="131.48" font-size="5.6" fill="#111" color="#111" text-anchor="middle" font-weight="bold" textLength="27.79" lengthAdjust="spacingAndGlyphs">JAK2/TP53</text>
<text x="363.75" y="131.48" font-size="5.6" fill="#111" color="#111" text-anchor="middle" font-weight="bold" textLength="49.66" lengthAdjust="spacingAndGlyphs">PROTEIN_CHANGE</text>
<text x="416.05" y="131.48" font-size="5.6" fill="#111" color="#111" text-anchor="middle" font-weight="bold" textLength="21.88" lengthAdjust="spacingAndGlyphs">Baseline</text>
<text x="455.65" y="131.48" font-size="5.6" fill="#111" color="#111" text-anchor="middle" font-weight="bold" textLength="13.60" lengthAdjust="spacingAndGlyphs">C7D1</text>
<text x="494.95" y="131.48" font-size="5.6" fill="#111" color="#111" text-anchor="middle" font-weight="bold" textLength="16.56" lengthAdjust="spacingAndGlyphs">C33D1</text>
<text x="303.00" y="139.83" font-size="5.6" fill="#262626" color="#262626" text-anchor="middle" textLength="30.17" lengthAdjust="spacingAndGlyphs">JAK2−V617F</text>
<text x="363.75" y="139.83" font-size="5.6" fill="#262626" color="#262626" text-anchor="middle" textLength="19.26" lengthAdjust="spacingAndGlyphs">p.V617F</text>
<text x="416.05" y="139.83" font-size="5.6" fill="#262626" color="#262626" text-anchor="middle" textLength="17.28" lengthAdjust="spacingAndGlyphs">99.88%</text>
<text x="455.65" y="139.83" font-size="5.6" fill="#262626" color="#262626" text-anchor="middle" textLength="17.28" lengthAdjust="spacingAndGlyphs">98.87%</text>
<text x="494.95" y="139.83" font-size="5.6" fill="#262626" color="#262626" text-anchor="middle" textLength="17.28" lengthAdjust="spacingAndGlyphs">64.40%</text>
<text x="303.00" y="147.43" font-size="5.6" fill="#262626" color="#262626" text-anchor="middle" textLength="12.18" lengthAdjust="spacingAndGlyphs">TP53</text>
<text x="363.75" y="147.43" font-size="5.6" fill="#262626" color="#262626" text-anchor="middle" textLength="20.40" lengthAdjust="spacingAndGlyphs">p.R248Q</text>
<text x="416.05" y="147.43" font-size="5.6" fill="#262626" color="#262626" text-anchor="middle" textLength="14.45" lengthAdjust="spacingAndGlyphs">0.16%</text>
<text x="455.65" y="147.43" font-size="5.6" fill="#262626" color="#262626" text-anchor="middle" textLength="14.45" lengthAdjust="spacingAndGlyphs">0.38%</text>
<text x="494.95" y="147.43" font-size="5.6" fill="#262626" color="#262626" text-anchor="middle" textLength="14.45" lengthAdjust="spacingAndGlyphs">1.68%</text>
<text x="303.00" y="155.03" font-size="5.6" fill="#262626" color="#262626" text-anchor="middle" textLength="12.18" lengthAdjust="spacingAndGlyphs">TP53</text>
<text x="363.75" y="155.03" font-size="5.6" fill="#262626" color="#262626" text-anchor="middle" textLength="21.24" lengthAdjust="spacingAndGlyphs">p.R248W</text>
<text x="416.05" y="155.03" font-size="5.6" fill="#262626" color="#262626" text-anchor="middle" textLength="14.45" lengthAdjust="spacingAndGlyphs">0.00%</text>
<text x="455.65" y="155.03" font-size="5.6" fill="#262626" color="#262626" text-anchor="middle" textLength="14.45" lengthAdjust="spacingAndGlyphs">0.10%</text>
<text x="494.95" y="155.03" font-size="5.6" fill="#262626" color="#262626" text-anchor="middle" textLength="14.45" lengthAdjust="spacingAndGlyphs">2.00%</text>
<text x="303.00" y="162.58" font-size="5.6" fill="#262626" color="#262626" text-anchor="middle" textLength="12.18" lengthAdjust="spacingAndGlyphs">TP53</text>
<text x="363.75" y="162.58" font-size="5.6" fill="#262626" color="#262626" text-anchor="middle" textLength="20.11" lengthAdjust="spacingAndGlyphs">p.R175H</text>
<text x="416.05" y="162.58" font-size="5.6" fill="#262626" color="#262626" text-anchor="middle" textLength="14.45" lengthAdjust="spacingAndGlyphs">0.20%</text>
<text x="455.65" y="162.58" font-size="5.6" fill="#262626" color="#262626" text-anchor="middle" textLength="14.45" lengthAdjust="spacingAndGlyphs">0.43%</text>
<text x="494.95" y="162.58" font-size="5.6" fill="#262626" color="#262626" text-anchor="middle" textLength="14.45" lengthAdjust="spacingAndGlyphs">6.93%</text>
<text x="303.00" y="170.13" font-size="5.6" fill="#262626" color="#262626" text-anchor="middle" textLength="12.18" lengthAdjust="spacingAndGlyphs">TP53</text>
<text x="363.75" y="170.13" font-size="5.6" fill="#262626" color="#262626" text-anchor="middle" textLength="20.12" lengthAdjust="spacingAndGlyphs">p.G245S</text>
<text x="416.05" y="170.13" font-size="5.6" fill="#262626" color="#262626" text-anchor="middle" textLength="14.45" lengthAdjust="spacingAndGlyphs">0.00%</text>
<text x="455.65" y="170.13" font-size="5.6" fill="#262626" color="#262626" text-anchor="middle" textLength="14.45" lengthAdjust="spacingAndGlyphs">0.39%</text>
<text x="494.95" y="170.13" font-size="5.6" fill="#262626" color="#262626" text-anchor="middle" textLength="17.28" lengthAdjust="spacingAndGlyphs">12.18%</text>
<text x="303.00" y="177.73" font-size="5.6" fill="#262626" color="#262626" text-anchor="middle" textLength="12.18" lengthAdjust="spacingAndGlyphs">TP53</text>
<text x="363.75" y="177.73" font-size="5.6" fill="#262626" color="#262626" text-anchor="middle" textLength="19.83" lengthAdjust="spacingAndGlyphs">p.V172D</text>
<text x="416.05" y="177.73" font-size="5.6" fill="#262626" color="#262626" text-anchor="middle" textLength="14.45" lengthAdjust="spacingAndGlyphs">0.13%</text>
<text x="455.65" y="177.73" font-size="5.6" fill="#262626" color="#262626" text-anchor="middle" textLength="14.45" lengthAdjust="spacingAndGlyphs">0.25%</text>
<text x="494.95" y="177.73" font-size="5.6" fill="#262626" color="#262626" text-anchor="middle" textLength="14.45" lengthAdjust="spacingAndGlyphs">1.11%</text>
<rect x="18.50" y="312.20" width="227.75" height="6.20" fill="#c0c2c9"/>
<rect x="18.50" y="318.40" width="227.75" height="8.00" fill="#efeff1"/>
<rect x="18.50" y="326.40" width="227.75" height="7.60" fill="#dcdcdf"/>
<rect x="73.90" y="312.20" width="1" height="21.80" fill="#ffffff" fill-opacity="0.85"/>
<rect x="140.10" y="312.20" width="1" height="21.80" fill="#ffffff" fill-opacity="0.85"/>
<rect x="174.90" y="312.20" width="1" height="21.80" fill="#ffffff" fill-opacity="0.85"/>
<rect x="210.75" y="312.20" width="1" height="21.80" fill="#ffffff" fill-opacity="0.85"/>
<rect x="18.50" y="318.10" width="227.75" height="0.6" fill="#ffffff" fill-opacity="0.6"/>
<rect x="18.50" y="326.10" width="227.75" height="0.6" fill="#ffffff" fill-opacity="0.6"/>
<text x="46.45" y="317.03" font-size="5.6" fill="#111" color="#111" text-anchor="middle" font-weight="bold" textLength="27.79" lengthAdjust="spacingAndGlyphs">JAK2/TP53</text>
<text x="107.50" y="317.03" font-size="5.6" fill="#111" color="#111" text-anchor="middle" font-weight="bold" textLength="49.66" lengthAdjust="spacingAndGlyphs">PROTEIN_CHANGE</text>
<text x="158.00" y="317.03" font-size="5.6" fill="#111" color="#111" text-anchor="middle" font-weight="bold" textLength="21.88" lengthAdjust="spacingAndGlyphs">Baseline</text>
<text x="193.32" y="317.03" font-size="5.6" fill="#111" color="#111" text-anchor="middle" font-weight="bold" textLength="13.60" lengthAdjust="spacingAndGlyphs">C7D1</text>
<text x="228.75" y="317.03" font-size="5.6" fill="#111" color="#111" text-anchor="middle" font-weight="bold" textLength="16.56" lengthAdjust="spacingAndGlyphs">C14D1</text>
<text x="46.45" y="325.43" font-size="5.6" fill="#262626" color="#262626" text-anchor="middle" textLength="30.17" lengthAdjust="spacingAndGlyphs">JAK2−V617F</text>
<text x="107.50" y="325.43" font-size="5.6" fill="#262626" color="#262626" text-anchor="middle" textLength="19.26" lengthAdjust="spacingAndGlyphs">p.V617F</text>
<text x="158.00" y="325.43" font-size="5.6" fill="#262626" color="#262626" text-anchor="middle" textLength="14.45" lengthAdjust="spacingAndGlyphs">4.30%</text>
<text x="193.32" y="325.43" font-size="5.6" fill="#262626" color="#262626" text-anchor="middle" textLength="14.45" lengthAdjust="spacingAndGlyphs">4.47%</text>
<text x="228.75" y="325.43" font-size="5.6" fill="#262626" color="#262626" text-anchor="middle" textLength="14.45" lengthAdjust="spacingAndGlyphs">1.37%</text>
<text x="46.45" y="333.23" font-size="5.6" fill="#262626" color="#262626" text-anchor="middle" textLength="12.18" lengthAdjust="spacingAndGlyphs">TP53</text>
<text x="107.50" y="333.23" font-size="5.6" fill="#262626" color="#262626" text-anchor="middle" textLength="20.40" lengthAdjust="spacingAndGlyphs">p.G262D</text>
<text x="158.00" y="333.23" font-size="5.6" fill="#262626" color="#262626" text-anchor="middle" textLength="14.45" lengthAdjust="spacingAndGlyphs">0.13%</text>
<text x="193.32" y="333.23" font-size="5.6" fill="#262626" color="#262626" text-anchor="middle" textLength="14.45" lengthAdjust="spacingAndGlyphs">2.00%</text>
<text x="228.75" y="333.23" font-size="5.6" fill="#262626" color="#262626" text-anchor="middle" textLength="14.45" lengthAdjust="spacingAndGlyphs">8.35%</text>
<rect x="273.75" y="312.10" width="239.35" height="6.40" fill="#c0c2c9"/>
<rect x="273.75" y="318.50" width="239.35" height="7.70" fill="#efeff1"/>
<rect x="273.75" y="326.20" width="239.35" height="7.60" fill="#dcdcdf"/>
<rect x="273.75" y="333.80" width="239.35" height="7.60" fill="#efeff1"/>
<rect x="273.75" y="341.40" width="239.35" height="7.40" fill="#dcdcdf"/>
<rect x="329.25" y="312.10" width="1" height="36.70" fill="#ffffff" fill-opacity="0.85"/>
<rect x="394.90" y="312.10" width="1" height="36.70" fill="#ffffff" fill-opacity="0.85"/>
<rect x="433.90" y="312.10" width="1" height="36.70" fill="#ffffff" fill-opacity="0.85"/>
<rect x="473.70" y="312.10" width="1" height="36.70" fill="#ffffff" fill-opacity="0.85"/>
<rect x="273.75" y="318.20" width="239.35" height="0.6" fill="#ffffff" fill-opacity="0.6"/>
<rect x="273.75" y="325.90" width="239.35" height="0.6" fill="#ffffff" fill-opacity="0.6"/>
<rect x="273.75" y="333.50" width="239.35" height="0.6" fill="#ffffff" fill-opacity="0.6"/>
<rect x="273.75" y="341.10" width="239.35" height="0.6" fill="#ffffff" fill-opacity="0.6"/>
<text x="301.75" y="317.03" font-size="5.6" fill="#111" color="#111" text-anchor="middle" font-weight="bold" textLength="27.79" lengthAdjust="spacingAndGlyphs">JAK2/TP53</text>
<text x="362.57" y="317.03" font-size="5.6" fill="#111" color="#111" text-anchor="middle" font-weight="bold" textLength="49.66" lengthAdjust="spacingAndGlyphs">PROTEIN_CHANGE</text>
<text x="414.90" y="317.03" font-size="5.6" fill="#111" color="#111" text-anchor="middle" font-weight="bold" textLength="21.88" lengthAdjust="spacingAndGlyphs">Baseline</text>
<text x="454.30" y="317.03" font-size="5.6" fill="#111" color="#111" text-anchor="middle" font-weight="bold" textLength="13.60" lengthAdjust="spacingAndGlyphs">C7D1</text>
<text x="493.65" y="317.03" font-size="5.6" fill="#111" color="#111" text-anchor="middle" font-weight="bold" textLength="16.56" lengthAdjust="spacingAndGlyphs">C12D1</text>
<text x="301.75" y="325.38" font-size="5.6" fill="#262626" color="#262626" text-anchor="middle" textLength="30.17" lengthAdjust="spacingAndGlyphs">JAK2−V617F</text>
<text x="362.57" y="325.38" font-size="5.6" fill="#262626" color="#262626" text-anchor="middle" textLength="19.26" lengthAdjust="spacingAndGlyphs">p.V617F</text>
<text x="414.90" y="325.38" font-size="5.6" fill="#262626" color="#262626" text-anchor="middle" textLength="17.28" lengthAdjust="spacingAndGlyphs">69.21%</text>
<text x="454.30" y="325.38" font-size="5.6" fill="#262626" color="#262626" text-anchor="middle" textLength="17.28" lengthAdjust="spacingAndGlyphs">17.78%</text>
<text x="493.65" y="325.38" font-size="5.6" fill="#262626" color="#262626" text-anchor="middle" textLength="17.28" lengthAdjust="spacingAndGlyphs">12.97%</text>
<text x="301.75" y="333.03" font-size="5.6" fill="#262626" color="#262626" text-anchor="middle" textLength="12.18" lengthAdjust="spacingAndGlyphs">TP53</text>
<text x="362.57" y="333.03" font-size="5.6" fill="#262626" color="#262626" text-anchor="middle" textLength="20.40" lengthAdjust="spacingAndGlyphs">p.V143M</text>
<text x="414.90" y="333.03" font-size="5.6" fill="#262626" color="#262626" text-anchor="middle" textLength="14.45" lengthAdjust="spacingAndGlyphs">0.29%</text>
<text x="454.30" y="333.03" font-size="5.6" fill="#262626" color="#262626" text-anchor="middle" textLength="14.45" lengthAdjust="spacingAndGlyphs">6.96%</text>
<text x="493.65" y="333.03" font-size="5.6" fill="#262626" color="#262626" text-anchor="middle" textLength="14.45" lengthAdjust="spacingAndGlyphs">8.72%</text>
<text x="301.75" y="340.63" font-size="5.6" fill="#262626" color="#262626" text-anchor="middle" textLength="12.18" lengthAdjust="spacingAndGlyphs">TP53</text>
<text x="362.57" y="340.63" font-size="5.6" fill="#262626" color="#262626" text-anchor="middle" textLength="20.40" lengthAdjust="spacingAndGlyphs">p.V203M</text>
<text x="414.90" y="340.63" font-size="5.6" fill="#262626" color="#262626" text-anchor="middle" textLength="14.45" lengthAdjust="spacingAndGlyphs">0.26%</text>
<text x="454.30" y="340.63" font-size="5.6" fill="#262626" color="#262626" text-anchor="middle" textLength="14.45" lengthAdjust="spacingAndGlyphs">2.43%</text>
<text x="493.65" y="340.63" font-size="5.6" fill="#262626" color="#262626" text-anchor="middle" textLength="14.45" lengthAdjust="spacingAndGlyphs">2.82%</text>
<text x="301.75" y="348.13" font-size="5.6" fill="#262626" color="#262626" text-anchor="middle" textLength="12.18" lengthAdjust="spacingAndGlyphs">TP53</text>
<text x="362.57" y="348.13" font-size="5.6" fill="#262626" color="#262626" text-anchor="middle" textLength="19.83" lengthAdjust="spacingAndGlyphs">p.H193Y</text>
<text x="414.90" y="348.13" font-size="5.6" fill="#262626" color="#262626" text-anchor="middle" textLength="14.45" lengthAdjust="spacingAndGlyphs">0.18%</text>
<text x="454.30" y="348.13" font-size="5.6" fill="#262626" color="#262626" text-anchor="middle" textLength="14.45" lengthAdjust="spacingAndGlyphs">3.78%</text>
<text x="493.65" y="348.13" font-size="5.6" fill="#262626" color="#262626" text-anchor="middle" textLength="14.45" lengthAdjust="spacingAndGlyphs">3.66%</text>
<rect x="14.20" y="481.00" width="224.00" height="6.50" fill="#c0c2c9"/>
<rect x="14.20" y="487.50" width="224.00" height="7.90" fill="#efeff1"/>
<rect x="14.20" y="495.40" width="224.00" height="7.50" fill="#e9e9ed"/>
<rect x="14.20" y="502.90" width="224.00" height="6.90" fill="#f3d68a"/>
<rect x="77.80" y="481.00" width="1" height="28.80" fill="#ffffff" fill-opacity="0.85"/>
<rect x="143.70" y="481.00" width="1" height="28.80" fill="#ffffff" fill-opacity="0.85"/>
<rect x="191.00" y="481.00" width="1" height="28.80" fill="#ffffff" fill-opacity="0.85"/>
<rect x="14.20" y="487.20" width="224.00" height="0.6" fill="#ffffff" fill-opacity="0.6"/>
<rect x="14.20" y="495.10" width="224.00" height="0.6" fill="#ffffff" fill-opacity="0.6"/>
<rect x="14.20" y="502.60" width="224.00" height="0.6" fill="#ffffff" fill-opacity="0.6"/>
<text x="46.25" y="485.98" font-size="5.6" fill="#111" color="#111" text-anchor="middle" font-weight="bold" textLength="27.79" lengthAdjust="spacingAndGlyphs">JAK2/TP53</text>
<text x="111.25" y="485.98" font-size="5.6" fill="#111" color="#111" text-anchor="middle" font-weight="bold" textLength="49.66" lengthAdjust="spacingAndGlyphs">PROTEIN_CHANGE</text>
<text x="167.85" y="485.98" font-size="5.6" fill="#111" color="#111" text-anchor="middle" font-weight="bold" textLength="21.88" lengthAdjust="spacingAndGlyphs">Baseline</text>
<text x="214.85" y="485.98" font-size="5.6" fill="#111" color="#111" text-anchor="middle" font-weight="bold" textLength="13.60" lengthAdjust="spacingAndGlyphs">C7D1</text>
<text x="46.25" y="494.48" font-size="5.6" fill="#262626" color="#262626" text-anchor="middle" textLength="30.17" lengthAdjust="spacingAndGlyphs">JAK2−V617F</text>
<text x="111.25" y="494.48" font-size="5.6" fill="#262626" color="#262626" text-anchor="middle" textLength="19.26" lengthAdjust="spacingAndGlyphs">p.V617F</text>
<text x="167.85" y="494.48" font-size="5.6" fill="#262626" color="#262626" text-anchor="middle" textLength="17.28" lengthAdjust="spacingAndGlyphs">82.73%</text>
<text x="214.85" y="494.48" font-size="5.6" fill="#262626" color="#262626" text-anchor="middle" textLength="17.28" lengthAdjust="spacingAndGlyphs">98.55%</text>
<text x="46.25" y="502.18" font-size="5.6" fill="#262626" color="#262626" text-anchor="middle" textLength="12.18" lengthAdjust="spacingAndGlyphs">TP53</text>
<text x="111.25" y="502.18" font-size="5.6" fill="#262626" color="#262626" text-anchor="middle" textLength="20.40" lengthAdjust="spacingAndGlyphs">p.R248Q</text>
<text x="167.85" y="502.18" font-size="5.6" fill="#262626" color="#262626" text-anchor="middle" textLength="14.45" lengthAdjust="spacingAndGlyphs">1.14%</text>
<text x="214.85" y="502.18" font-size="5.6" fill="#262626" color="#262626" text-anchor="middle" textLength="14.45" lengthAdjust="spacingAndGlyphs">7.40%</text>
<text x="46.25" y="509.38" font-size="5.6" fill="#111" color="#111" text-anchor="middle" font-weight="bold" textLength="12.72" lengthAdjust="spacingAndGlyphs">TP53</text>
<text x="111.25" y="509.38" font-size="5.6" fill="#111" color="#111" text-anchor="middle" font-weight="bold" textLength="22.47" lengthAdjust="spacingAndGlyphs">p.R248W</text>
<text x="167.85" y="509.38" font-size="5.6" fill="#111" color="#111" text-anchor="middle" font-weight="bold" textLength="15.08" lengthAdjust="spacingAndGlyphs">5.50%</text>
<text x="214.85" y="509.38" font-size="5.6" fill="#111" color="#111" text-anchor="middle" font-weight="bold" textLength="18.04" lengthAdjust="spacingAndGlyphs">36.73%</text>
<rect x="0.5" y="0.5" width="519" height="516" fill="none" stroke="#000" stroke-width="1.2"/>
</svg>
</body></html>
